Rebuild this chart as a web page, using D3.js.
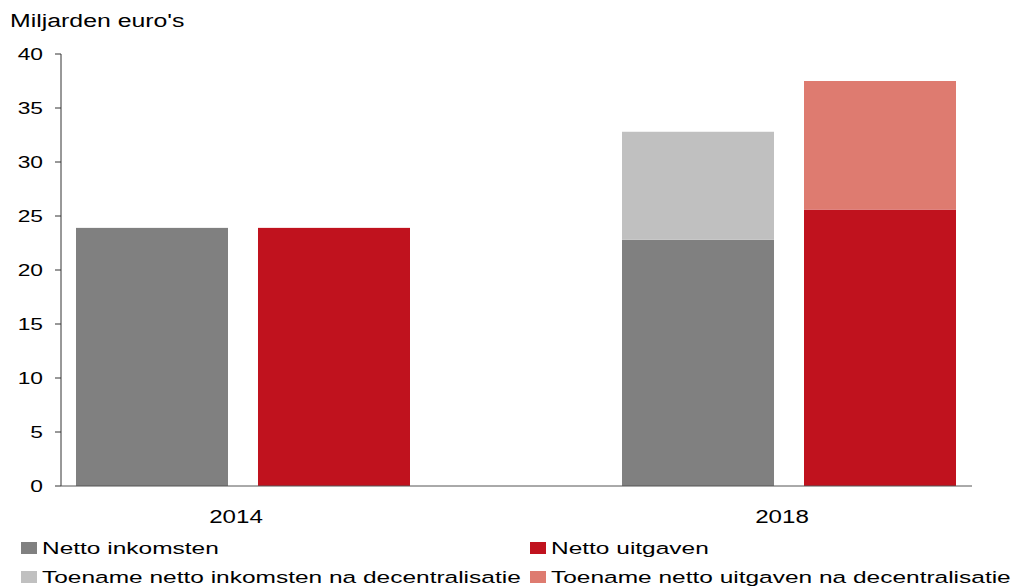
<!DOCTYPE html>
<html>
<head>
<meta charset="utf-8">
<script src="https://cdn.jsdelivr.net/npm/d3@7"></script>
<style>
  body { margin: 0; background: #fff; }
  text { font-family: "Liberation Sans", Arial, sans-serif; fill: #000; }
</style>
</head>
<body>
<svg id="chart"></svg>
<script>
const years = ["2014", "2018"];
const groups = ["inkomsten", "uitgaven"];
const baseValues = { inkomsten: [23.9, 22.8], uitgaven: [23.9, 25.6] };
const extraValues = { inkomsten: [0, 10.0], uitgaven: [0, 11.9] };
const yTicks = [0, 5, 10, 15, 20, 25, 30, 35, 40];
const legendItems = [
    { label: "Netto inkomsten", color: "#808080" },
    { label: "Netto uitgaven", color: "#C0121E" },
    { label: "Toename netto inkomsten na decentralisatie", color: "#C0C0C0" },
    { label: "Toename netto uitgaven na decentralisatie", color: "#DE7B70" }
];
const baseColor = { inkomsten: "#808080", uitgaven: "#C0121E" };
const extraColor = { inkomsten: "#C0C0C0", uitgaven: "#DE7B70" };

const width = 1013;
const height = 587;
const axisLeft = 61, axisRight = 972;

const svg = d3.select("#chart")
    .attr("width", width)
    .attr("height", height);

// y scale: 0 at 486, 40 at 54
const y = d3.scaleLinear().domain([0, 40]).range([486, 54]);

// year groups sit close to the plot edges
const x0 = d3.scaleBand()
    .domain(years)
    .range([76, 956])
    .paddingInner(0.3883)
    .paddingOuter(0);

const x1 = d3.scaleBand()
    .domain(groups)
    .range([0, x0.bandwidth()])
    .paddingInner(0.1648);

// stretched text helper (the original text is wide)
const stretchText = (sel, x, yy, sx) => sel.attr("transform", `translate(${x},${yy}) scale(${sx},1)`);

// bars
const barData = [];
years.forEach((yr, i) => {
    groups.forEach(g => {
        barData.push({ year: yr, group: g, y0: 0, y1: baseValues[g][i], color: baseColor[g] });
        if (extraValues[g][i] > 0) {
            barData.push({ year: yr, group: g, y0: baseValues[g][i], y1: baseValues[g][i] + extraValues[g][i], color: extraColor[g] });
        }
    });
});

svg.append("g")
    .selectAll("rect")
    .data(barData)
    .enter()
    .append("rect")
    .attr("x", d => x0(d.year) + x1(d.group))
    .attr("width", x1.bandwidth())
    .attr("y", d => y(d.y1))
    .attr("height", d => y(d.y0) - y(d.y1))
    .attr("fill", d => d.color);

// y axis
const yAxis = svg.append("g")
    .attr("transform", `translate(${axisLeft},0)`);
yAxis.append("line")
    .attr("x1", 0).attr("x2", 0)
    .attr("y1", y(40)).attr("y2", y(0))
    .attr("stroke", "#333").attr("stroke-width", 1);
yAxis.selectAll(".tick")
    .data(yTicks)
    .enter()
    .append("line")
    .attr("class", "tick")
    .attr("x1", -6).attr("x2", 0)
    .attr("y1", d => y(d)).attr("y2", d => y(d))
    .attr("stroke", "#333");
yAxis.selectAll(".tick-label")
    .data(yTicks)
    .enter()
    .append("text")
    .attr("class", "tick-label")
    .attr("text-anchor", "end")
    .attr("dy", "0.35em")
    .style("font-size", "16.5px")
    .each(function (d) { stretchText(d3.select(this), -18, y(d), 1.38); })
    .text(d => d);

// x axis line
svg.append("line")
    .attr("x1", axisLeft).attr("x2", axisRight)
    .attr("y1", y(0)).attr("y2", y(0))
    .attr("stroke", "#555").attr("stroke-width", 1);

svg.selectAll(".year-label")
    .data(years)
    .enter()
    .append("text")
    .attr("class", "year-label")
    .attr("text-anchor", "middle")
    .style("font-size", "19px")
    .each(function (d) { stretchText(d3.select(this), x0(d) + x0.bandwidth() / 2 - 7, 523, 1.27); })
    .text(d => d);

// title
svg.append("text")
    .style("font-size", "18px")
    .call(stretchText, 10, 27, 1.38)
    .text("Miljarden euro's");

// legend
const legend = svg.append("g").attr("id", "legend");
const legendCols = [21, 530];
const legendRows = [548, 577];
const item = legend.selectAll(".legend-item")
    .data(legendItems)
    .enter()
    .append("g")
    .attr("class", "legend-item")
    .attr("transform", (d, i) => `translate(${legendCols[i % 2]},${legendRows[Math.floor(i / 2)]})`);
item.append("rect")
    .attr("x", 0).attr("y", -6)
    .attr("width", 16).attr("height", 12)
    .attr("fill", d => d.color);
item.append("text")
    .style("font-size", "17px")
    .call(stretchText, 21, 6, 1.44)
    .text(d => d.label);
</script>
</body>
</html>
